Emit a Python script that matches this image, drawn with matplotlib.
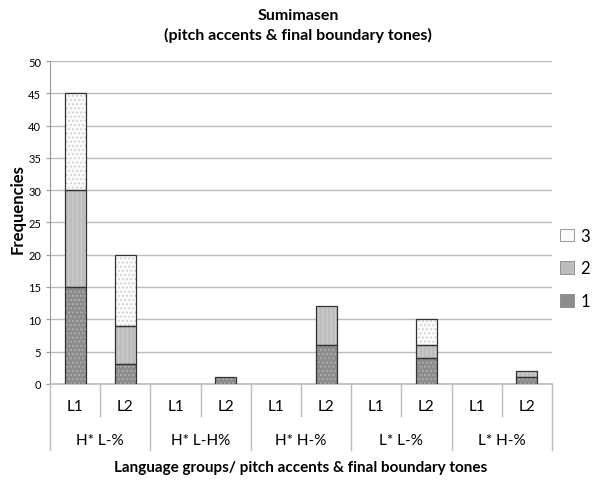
import matplotlib.pyplot as plt
from matplotlib.patches import Patch
import numpy as np

plt.rcParams['font.family'] = ['Lato', 'DejaVu Sans']
plt.rcParams['hatch.linewidth'] = 0.8

groups = ["H* L-%", "H* L-H%", "H* H-%", "L* L-%", "L* H-%"]
langs = ["L1", "L2"]
tone1 = [15, 3, 0, 1, 0, 6, 0, 4, 0, 1]
tone2 = [15, 6, 0, 0, 0, 6, 0, 2, 0, 1]
tone3 = [15, 11, 0, 0, 0, 0, 0, 4, 0, 0]

fig = plt.figure(figsize=(5.96, 4.81), dpi=100)
ax = fig.add_axes([0.084, 0.2, 0.842, 0.671])

x = np.arange(len(tone1))
w = 0.42
series = [("1", tone1, '#8c8c8c', '#b0b0b0', '....'),
          ("2", tone2, '#bdbdbd', '#cccccc', '||||'),
          ("3", tone3, '#fafafa', '#cfcfcf', '....')]
bottom = np.zeros(len(tone1))
handles = []
for name, vals, fc, hc, hatch in series:
    vals = np.array(vals)
    m = vals > 0
    # fill with hatch pattern, then outline on top
    ax.bar(x[m], vals[m], w, bottom=bottom[m], color=fc, edgecolor=hc, hatch=hatch,
           linewidth=0, zorder=3)
    ax.bar(x[m], vals[m], w, bottom=bottom[m], fill=False, edgecolor='#333333',
           linewidth=0.9, zorder=4)
    bottom = bottom + vals
    handles.append(Patch(facecolor=fc, edgecolor='#888888', linewidth=0.6, label=name))

ax.set_xlim(-0.5, len(tone1) - 0.5)
ax.set_ylim(0, 50)
ax.set_yticks(range(0, 51, 5))
ax.tick_params(axis='y', labelsize=8, length=3, color='#999999')
ax.set_xticks([])
ax.yaxis.grid(True, color='#bbbbbb', linewidth=1)
ax.set_axisbelow(True)
for s in ['top', 'right']:
    ax.spines[s].set_visible(False)
ax.spines['left'].set_color('#999999')
ax.spines['bottom'].set_color('#bbbbbb')
ax.spines['bottom'].set_linewidth(1.2)

# category axis (two levels)
tr = ax.get_xaxis_transform()
for i in range(len(tone1)):
    ax.text(i, -0.07, langs[i % 2], transform=tr, ha='center', va='center', fontsize=11)
for i in range(len(tone1) + 1):
    edge = i - 0.5
    low = -0.205 if i % 2 == 0 else -0.1
    ax.plot([edge, edge], [0, low], transform=tr, color='#bbbbbb', lw=1, clip_on=False)
for g, name in enumerate(groups):
    ax.text(2 * g + 0.5, -0.175, name, transform=tr, ha='center', va='center', fontsize=11)

fig.text(0.03, 0.565, "Frequencies", rotation=90, ha='center', va='center',
         fontsize=12, fontweight='bold')
fig.text(0.505, 0.027, "Language groups/ pitch accents & final boundary tones",
         ha='center', va='center', fontsize=11, fontweight='bold')
fig.text(0.5, 0.91, "Sumimasen\n(pitch accents & final boundary tones)",
         ha='center', va='bottom', fontsize=11.5, fontweight='bold', linespacing=1.45)

fig.legend(handles[::-1], [h.get_label() for h in handles[::-1]], loc='center left',
           bbox_to_anchor=(0.915, 0.44), frameon=False, fontsize=12,
           handlelength=0.8, handleheight=0.8, labelspacing=1.0, handletextpad=0.4)

fig.savefig("out.png", dpi=100)
